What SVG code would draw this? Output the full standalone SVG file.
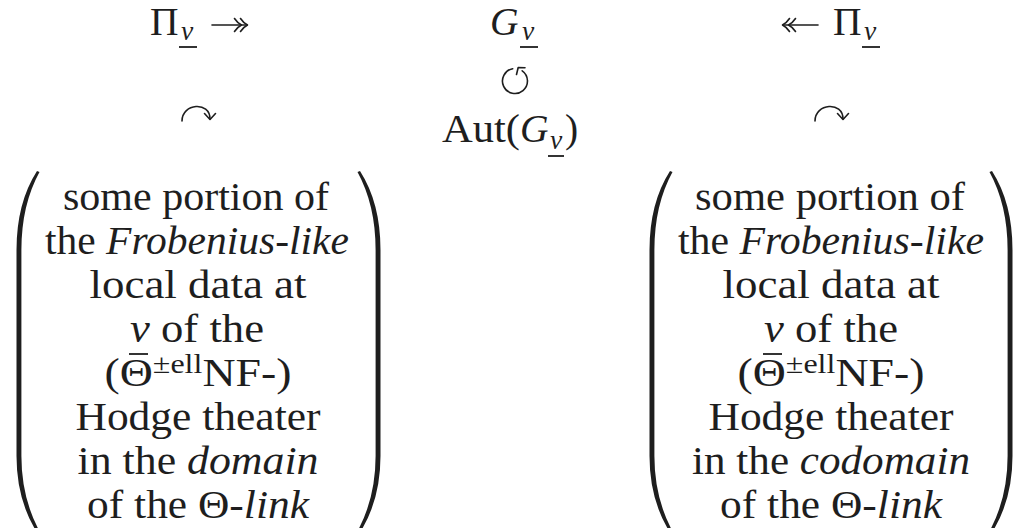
<svg xmlns="http://www.w3.org/2000/svg" xmlns:xlink="http://www.w3.org/1999/xlink" width="1013" height="528" viewBox="0 0 1013 528">
<style>
text{font-family:"Liberation Serif","Times New Roman",serif;fill:#1e1e1e;font-size:39.5px}
.c{text-anchor:middle}
.it{font-style:italic}
.sub{font-size:27.6px;font-style:italic}
.sup{font-size:27.6px}
.ul{stroke:#1e1e1e;stroke-width:1.8}
.sym{fill:none;stroke:#1e1e1e;stroke-width:1.6;stroke-linecap:round;stroke-linejoin:round}
.par{fill:#1e1e1e}
</style>
<defs>
<path id="lp" class="par" d="M 18 171 Q -2.5 203 -2.5 250 L -2.5 456 Q -2.5 501 19 534 L 21.5 533 Q 2.4 499 2.4 456 L 2.4 250 Q 2.4 205 20.5 172 Z"/>
</defs>
<rect width="1013" height="528" fill="#fff"/>

<g id="pi-left">
<text x="150" y="35">Π</text>
<text class="sub" x="181" y="40">v</text>
<line class="ul" x1="179" y1="47" x2="197" y2="47"/>
</g>

<g id="g-v">
<text class="it" x="490" y="35">G</text>
<text class="sub" x="522" y="40">v</text>
<line class="ul" x1="520" y1="47" x2="538" y2="47"/>
</g>

<g id="pi-right">
<text x="833" y="35">Π</text>
<text class="sub" x="864" y="40">v</text>
<line class="ul" x1="862" y1="47" x2="880" y2="47"/>
</g>

<g id="aut">
<text x="442" y="142" textLength="78" lengthAdjust="spacingAndGlyphs">Aut(</text>
<text class="it" x="520" y="142">G</text>
<text class="sub" x="550" y="149">v</text>
<line class="ul" x1="548" y1="156" x2="564" y2="156"/>
<text x="565" y="142">)</text>
</g>

<g id="connectors">
<path class="sym" d="M 212 25 L 247 25"/>
<path class="sym" d="M 240.5 18.5 Q 243.5 23 247.5 25 Q 243.5 27 240.5 31.5"/>
<path class="sym" d="M 234.5 18.5 Q 237.5 23 241.5 25 Q 237.5 27 234.5 31.5"/>
<path class="sym" d="M 783 25 L 818 25"/>
<path class="sym" d="M 789.5 18.5 Q 786.5 23 782.5 25 Q 786.5 27 789.5 31.5"/>
<path class="sym" d="M 795.5 18.5 Q 792.5 23 788.5 25 Q 792.5 27 795.5 31.5"/>
<path class="sym" d="M 512.7 68.7 A 12.5 12.5 0 1 0 522.2 70.8"/>
<path class="sym" d="M 516.5 74.5 L 518.2 67.5 L 525 67.8"/>
<g transform="translate(198,137)" class="sym"><path d="M -16 -16 C -16 -34, 12 -36, 12 -18"/><path d="M 6.5 -23.5 L 12 -17.5 L 17.5 -23.5"/></g>
<g transform="translate(831,137)" class="sym"><path d="M -16 -16 C -16 -34, 12 -36, 12 -18"/><path d="M 6.5 -23.5 L 12 -17.5 L 17.5 -23.5"/></g>
</g>

<g id="block-left">
<use xlink:href="#lp" transform="translate(19,0)"/>
<use xlink:href="#lp" transform="translate(378,0) scale(-1,1)"/>
<text class="c" x="196" y="210" textLength="266" lengthAdjust="spacingAndGlyphs">some portion of</text>
<text class="c" x="197" y="254" textLength="304" lengthAdjust="spacingAndGlyphs">the <tspan class="it">Frobenius-like</tspan></text>
<text class="c" x="198" y="298" textLength="217" lengthAdjust="spacingAndGlyphs">local data at</text>
<text class="c" x="197" y="342" textLength="134" lengthAdjust="spacingAndGlyphs"><tspan class="it">v</tspan> of the</text>
<line class="ul" x1="129" y1="354" x2="148" y2="354"/>
<text class="c" x="198" y="386" textLength="187" lengthAdjust="spacingAndGlyphs">(Θ<tspan class="sup" dy="-13">±ell</tspan><tspan dy="13">NF-)</tspan></text>
<text class="c" x="198" y="430" textLength="245" lengthAdjust="spacingAndGlyphs">Hodge theater</text>
<text class="c" x="198" y="474" textLength="241" lengthAdjust="spacingAndGlyphs">in the <tspan class="it">domain</tspan></text>
<text class="c" x="198" y="518" textLength="222" lengthAdjust="spacingAndGlyphs">of the Θ<tspan class="it">-link</tspan></text>
</g>

<g id="block-right">
<use xlink:href="#lp" transform="translate(652,0)"/>
<use xlink:href="#lp" transform="translate(1010,0) scale(-1,1)"/>
<text class="c" x="830" y="210" textLength="270" lengthAdjust="spacingAndGlyphs">some portion of</text>
<text class="c" x="831" y="254" textLength="306" lengthAdjust="spacingAndGlyphs">the <tspan class="it">Frobenius-like</tspan></text>
<text class="c" x="831" y="298" textLength="217" lengthAdjust="spacingAndGlyphs">local data at</text>
<text class="c" x="831" y="342" textLength="134" lengthAdjust="spacingAndGlyphs"><tspan class="it">v</tspan> of the</text>
<line class="ul" x1="763" y1="354" x2="782" y2="354"/>
<text class="c" x="831" y="386" textLength="187" lengthAdjust="spacingAndGlyphs">(Θ<tspan class="sup" dy="-13">±ell</tspan><tspan dy="13">NF-)</tspan></text>
<text class="c" x="831" y="430" textLength="245" lengthAdjust="spacingAndGlyphs">Hodge theater</text>
<text class="c" x="831" y="474" textLength="278" lengthAdjust="spacingAndGlyphs">in the <tspan class="it">codomain</tspan></text>
<text class="c" x="831" y="518" textLength="222" lengthAdjust="spacingAndGlyphs">of the Θ<tspan class="it">-link</tspan></text>
</g>
</svg>
